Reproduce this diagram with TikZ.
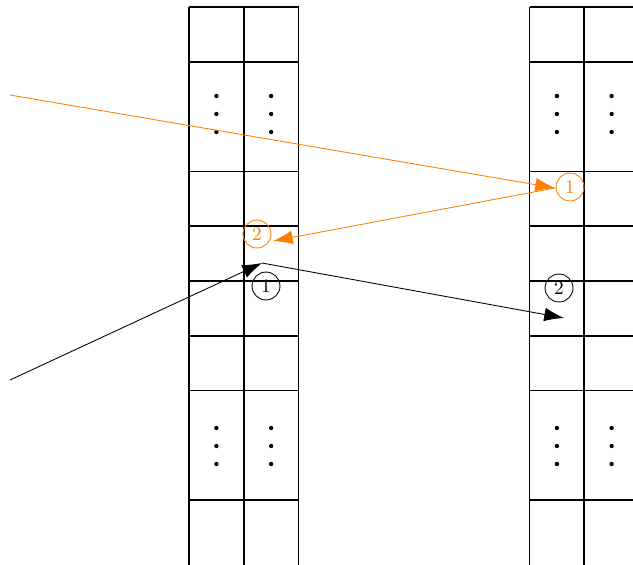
\documentclass[tikz,border=0pt]{standalone}
\usetikzlibrary{arrows.meta}
\begin{document}
\begin{tikzpicture}[x=0.018265cm,y=-0.018265cm,
  grid/.style={line width=0.9pt,black},
  dotmark/.style={fill=black},
  arr/.style={line width=0.45pt,-{Latex[length=3.6mm,width=2.5mm]}},
  lab/.style={circle,draw,line width=0.45pt,minimum size=0.51cm,inner sep=0pt}]
\useasboundingbox (0,0) rectangle (633,564);
\clip (0,0) rectangle (633,564);
% columns
\foreach \xa in {189,529.5}{
  \foreach \k in {0,1,2}{
    \draw[grid] ({\xa+54.75*\k},7.2) -- ({\xa+54.75*\k},600);
  }
  \foreach \k in {0,1,3,4,5,6,7,9}{
    \draw[grid] (\xa,{7.2+54.75*\k}) -- ({\xa+109.5},{7.2+54.75*\k});
  }
  \foreach \c in {27.4,82.1}{
    \foreach \yy in {96,114,132,428,446,464}{
      \fill[dotmark] ({\xa+\c},\yy) circle (0.04cm);
    }
  }
}
% coordinates
\coordinate (oS) at (10,95);
\coordinate (oM) at (555,188);
\coordinate (oE) at (273,241);
\coordinate (bS) at (10,380);
\coordinate (bM) at (262,263);
\coordinate (bE) at (564,318);
% labels
\node[lab,draw=orange,text=orange] (o1) at (570,187) {1};
\node[lab,draw=orange,text=orange] (o2) at (257,234) {2};
\node[lab] (b1) at (266,286) {1};
\node[lab] (b2) at (559,288) {2};
% arrows
\draw[arr,orange] (oS) -- (oM);
\draw[arr,orange] (oM) -- (oE);
\draw[arr,black] (bS) -- (bM);
\draw[arr,black] (bM) -- (bE);
\end{tikzpicture}
\end{document}
